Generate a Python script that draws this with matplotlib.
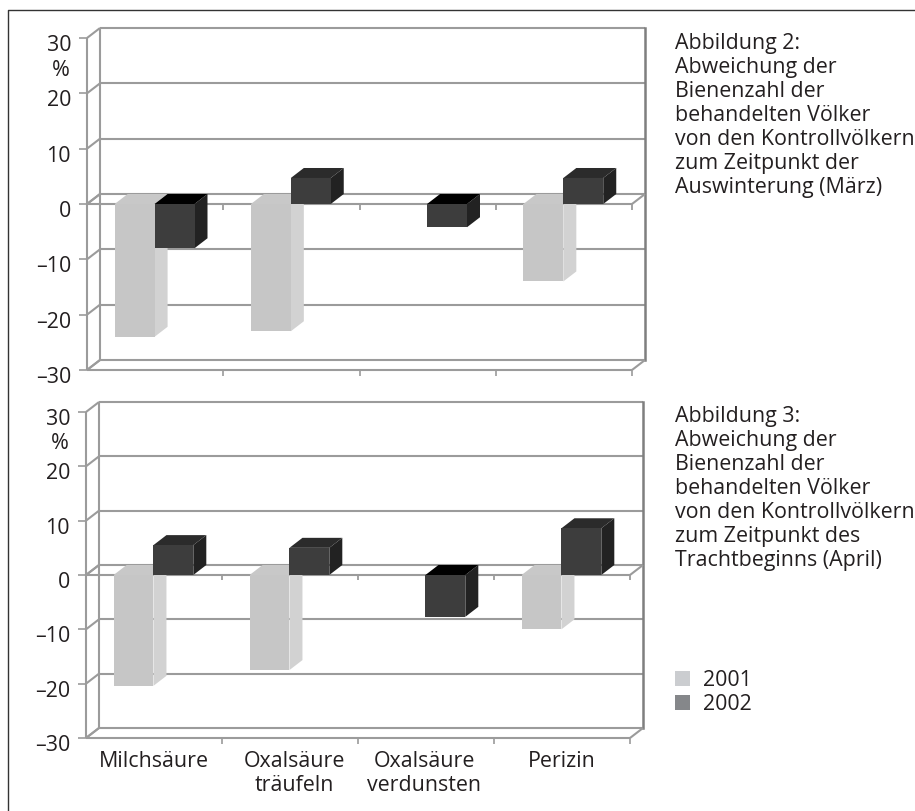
"""Two pseudo-3D bar panels: deviation of bee counts for treated vs control colonies, 2001/2002."""
import numpy as np
import matplotlib
matplotlib.use("Agg")
import matplotlib.pyplot as plt
from matplotlib.lines import Line2D
from matplotlib.patches import Rectangle
from matplotlib.transforms import ScaledTranslation

plt.rcParams["font.family"] = ["Open Sans", "DejaVu Sans"]

W, H = 915, 811
TXT = "#231f20"
LINE = "#9b9b9b"
FS = 15.4

categories = ["Milchsäure", "Oxalsäure\nträufeln", "Oxalsäure\nverdunsten", "Perizin"]
yticks = [-30, -20, -10, 0, 10, 20, 30]
ylabels = ["–30", "–20", "–10", "0", "10", "20", "30"]

maerz_2001 = [-24.0, -23.0, np.nan, -14.0]
maerz_2002 = [-8.0, 4.7, -4.2, 4.7]
april_2001 = [-20.4, -17.5, np.nan, -10.0]
april_2002 = [5.5, 5.0, -7.7, 8.6]

caption_2 = ["Abbildung 2:", "Abweichung der", "Bienenzahl der", "behandelten Völker",
             "von den Kontrollvölkern", "zum Zeitpunkt der", "Auswinterung (März)"]
caption_3 = ["Abbildung 3:", "Abweichung der", "Bienenzahl der", "behandelten Völker",
             "von den Kontrollvölkern", "zum Zeitpunkt des", "Trachtbeginns (April)"]
legend_labels = ["2001", "2002"]
legend_colors = ["#cbcdd0", "#85878a"]

# face colours: front, side, top when positive, top when negative
LIGHT = ("#c6c6c6", "#d2d2d2", "#c8c8c8", "#c8c8c8")
DARK = ("#3d3d3d", "#222222", "#2b2b2b", "#000000")

BAR_W = 0.293
BAR_OFF = 0.203
DEPTH_X, DEPTH_Y = 13, 10   # pixels


def box_bars(ax, xs, vals, cols, dx, dy, z):
    front, side, top_pos, top_neg = cols
    xs = np.asarray(xs)
    vals = np.asarray(vals)
    ok = ~np.isnan(vals)
    for x, v in zip(xs[ok], vals[ok]):
        hi = max(v, 0)
        lo = min(v, 0)
        ax.fill([x + BAR_W, x + BAR_W + dx, x + BAR_W + dx, x + BAR_W],
                [lo, lo + dy, hi + dy, hi], color=side, lw=0, zorder=z, clip_on=False)
        ax.fill([x, x + dx, x + BAR_W + dx, x + BAR_W],
                [hi, hi + dy, hi + dy, hi], color=top_pos if v > 0 else top_neg,
                lw=0, zorder=z, clip_on=False)
    ax.bar(xs[ok], vals[ok], BAR_W, align="edge", color=front, lw=0, zorder=z + 0.1,
           clip_on=False)


def panel(left, right, top, bottom, v01, v02, show_labels):
    ax = plt.axes([left / W, 1 - bottom / H, (right - left) / W, (bottom - top) / H])
    ax.set_xlim(0, 4)
    ax.set_ylim(-30, 30)
    ax.patch.set_visible(False)
    for s in ax.spines.values():
        s.set_visible(False)

    dx = DEPTH_X / ((right - left) / 4)
    dy = DEPTH_Y / ((bottom - top) / 60)
    kw = dict(color=LINE, lw=1.5, clip_on=False, zorder=1, solid_capstyle="butt")

    # back wall and grid
    for t in yticks:
        ax.plot([dx, 4 + dx], [t + dy, t + dy], **kw)
    ax.plot([dx, dx], [-30 + dy, 30 + dy], **kw)
    ax.plot([4 + dx, 4 + dx], [-30 + dy, 30 + dy], color="#7f7f7f", lw=1.8, clip_on=False, zorder=1)

    # front edges, floor and zero plane
    ax.plot([0, 0], [-30, 30], **kw)
    for y in (-30, 0):
        ax.plot([0, 4], [y, y], **kw)
        ax.plot([0, dx], [y, y + dy], **kw)
        ax.plot([4, 4 + dx], [y, y + dy], **kw)
    for t in yticks:
        ax.plot([0, dx], [t, t + dy], **kw)
    ax.vlines(range(1, 5), -1, 0, color=LINE, lw=1.3, zorder=1, clip_on=False)

    x = np.arange(4)
    box_bars(ax, x + BAR_OFF, v01, LIGHT, dx, dy, 2)
    box_bars(ax, x + BAR_OFF + BAR_W, v02, DARK, dx, dy, 3)

    ax.set_yticks(yticks, ylabels, fontsize=FS, color=TXT)
    ax.set_xticks(range(1, 5), [""] * 4)
    ax.tick_params(axis="y", length=6, width=1.2, color=LINE, pad=5.5)
    ax.tick_params(axis="x", length=4, width=1.2, color=LINE)
    shift = ScaledTranslation(0, -3.5 / 72, ax.figure.dpi_scale_trans)
    for lab in ax.get_yticklabels():
        lab.set_transform(lab.get_transform() + shift)

    # percent sign sits between the two top tick labels
    ax.text(-26 / ((right - left) / 4), 24.2, "%", ha="center", va="center", fontsize=FS,
            color=TXT, clip_on=False)

    if show_labels:
        nudge = [0, 4, -2, 0]
        for i, c in enumerate(categories):
            ax.text(i + 0.5 + nudge[i] / ((right - left) / 4), -30, c, ha="center", va="top",
                    fontsize=FS, color=TXT, linespacing=1.18, clip_on=False,
                    transform=ax.transData + ScaledTranslation(0, -9.5 / 72, ax.figure.dpi_scale_trans))
    return ax


def caption(lines, first_base):
    for i, s in enumerate(lines):
        fig.text(675 / W, 1 - (first_base + i * 24) / H, s, fontsize=FS, color=TXT, va="baseline")


fig = plt.figure(figsize=(W / 100, H / 100), dpi=100, facecolor="white")

panel(87, 632, 38, 370, maerz_2001, maerz_2002, False)
panel(86, 630, 412, 738, april_2001, april_2002, True)

caption(caption_2, 49)
caption(caption_3, 422)

# legend swatches and labels
for i, (lab, col) in enumerate(zip(legend_labels, legend_colors)):
    y = 671 + i * 24
    fig.add_artist(Rectangle((675 / W, 1 - (y + 15) / H), 15 / W, 15 / H, color=col, lw=0,
                             transform=fig.transFigure))
    fig.text(703 / W, 1 - (y + 15) / H, lab, fontsize=FS, color=TXT, va="baseline")

# rule along the top and left of the page block
fig.add_artist(Line2D([7.5 / W, 7.5 / W, 1], [0, 1 - 10 / H, 1 - 10 / H], color="#333333", lw=1.0))

fig.savefig("out.png", dpi=100)
